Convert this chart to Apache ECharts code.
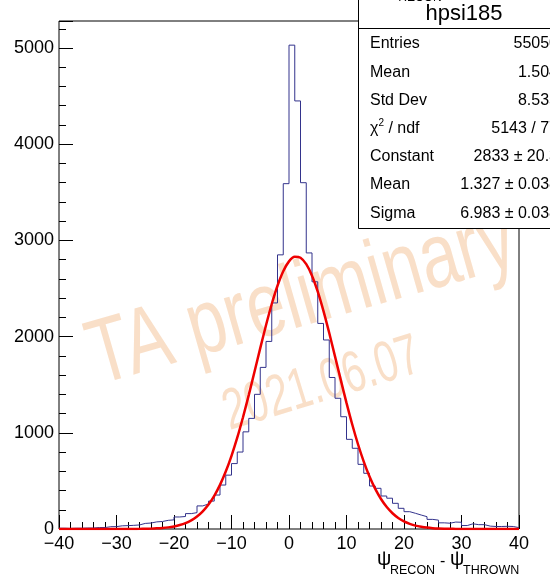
<!DOCTYPE html>
<html>
<head>
<meta charset="utf-8">
<script src="https://cdn.jsdelivr.net/npm/echarts@6/dist/echarts.min.js"></script>
<style>
html,body{margin:0;padding:0;background:#fff;}
#chart{width:550px;height:577px;}
</style>
</head>
<body>
<div id="chart"></div>
<script>
// ---- data ----
const binStart = -40;
const binWidth = 1;
const counts = [
  8, 6, 8, 8, 10, 10, 15, 15, 24, 25,          // -40 .. -31
  33, 35, 38, 42, 58, 62, 74, 78, 90, 95,      // -30 .. -21
  125, 130, 160, 170, 240, 260, 290, 353, 457, 560, // -20 .. -11
  680, 800, 1010, 1150, 1400, 1680, 1950, 2350, 2850, 3590, // -10 .. -1
  5030, 4450, 3600, 2870, 2570, 2137, 1965, 1575, 1359, 1167, // 0 .. 9
  932, 839, 672, 579, 447, 423, 343, 320, 267, 215, // 10 .. 19
  180, 163, 145, 128, 100, 92, 64, 60, 72, 70,  // 20 .. 29
  36, 54, 45, 45, 30, 26, 26, 28, 26, 14        // 30 .. 39
];
const fitX = [];
for (let v = -40; v <= 40; v++) fitX.push(v);
const fitY = [
  0, 0, 0, 0, 0, 0, 0, 0, 0, 0,                 // -40 .. -31
  0.1, 0.2, 0.4, 0.8, 1.3, 2.3, 3.9, 6.6, 10.7, 17, // -30 .. -21
  27, 41, 61, 90, 130, 184, 255, 345, 459, 597, // -20 .. -11
  761, 949, 1162, 1392, 1635, 1880, 2118, 2339, 2529, 2680, // -10 .. -1
  2782, 2830, 2820, 2753, 2633, 2467, 2265, 2037, 1795, 1550, // 0 .. 9
  1311, 1086, 881, 701, 546, 417, 312, 228, 164, 115, // 10 .. 19
  79, 54, 35, 23, 14.6, 9, 5.5, 3.3, 1.9, 1.1,  // 20 .. 29
  0.6, 0.3, 0.15, 0, 0, 0, 0, 0, 0, 0,          // 30 .. 39
  0                                             // 40
];
const xTicks = [-40, -30, -20, -10, 0, 10, 20, 30, 40];
const yTicks = [0, 1000, 2000, 3000, 4000, 5000];
const statsTitle = 'hpsi185';
const statsNames = ['Entries', 'Mean', 'Std Dev', '{b|χ}{sup|2}{b| / ndf}', 'Constant', 'Mean', 'Sigma'];
const statsValues = ['55050', '1.504', '8.535', '5143 / 77', '2833 ± 20.3', '1.327 ± 0.038', '6.983 ± 0.038'];

// ---- build ----
const histData = counts.map((c, i) => [binStart + i * binWidth, c]);
histData.push([binStart + counts.length * binWidth, counts[counts.length - 1]]);
const fitData = fitX.map((x, i) => [x, fitY[i]]);

const FONT = '"Liberation Sans", Arial, Helvetica, sans-serif';
const minus = s => String(s).replace('-', '\u2212');

const statsChildren = [
  {type: 'rect', shape: {x: 358.5, y: -5, width: 230, height: 233.5},
   style: {fill: '#fff', stroke: '#000', lineWidth: 1}},
  {type: 'line', shape: {x1: 358.5, y1: 28.5, x2: 600, y2: 28.5},
   style: {stroke: '#000', lineWidth: 1}},
  {type: 'text', x: 464, y: 14, style: {text: statsTitle, font: '22px ' + FONT,
   fill: '#000', align: 'center', verticalAlign: 'middle'}}
];
statsNames.forEach((n, i) => {
  const yy = 44 + i * 28.2;
  statsChildren.push({type: 'text', x: 370, y: yy, style: {
    text: n, fill: '#000', align: 'left', verticalAlign: 'middle',
    font: '16px ' + FONT,
    rich: {b: {fontSize: 16, fontFamily: FONT, lineHeight: 20, verticalAlign: 'middle'},
           sup: {fontSize: 10, fontFamily: FONT, lineHeight: 10, verticalAlign: 'top'}}
  }});
  statsChildren.push({type: 'text', x: 558, y: yy, style: {
    text: statsValues[i], fill: '#000', align: 'right', verticalAlign: 'middle',
    font: '16px ' + FONT
  }});
});

// x-axis title pieces
const titleParts = [
  {t: 'ψ', x: 377, y: 559, size: 20},
  {t: 'RECON', x: 390, y: 571, size: 12.5},
  {t: '-', x: 440, y: 562, size: 16},
  {t: 'ψ', x: 450, y: 559, size: 20},
  {t: 'THROWN', x: 463, y: 571, size: 12.5}
];
const titleEls = titleParts.map(p => ({type: 'text', z: 100, x: p.x, y: p.y,
  style: {text: p.t, font: p.size + 'px ' + FONT, fill: '#000', align: 'left', verticalAlign: 'middle'}}));

const chart = echarts.init(document.getElementById('chart'), null, {renderer: 'canvas'});
const option = {
  backgroundColor: '#fff',
  animation: false,
  grid: {left: 59, right: 31, top: 21, bottom: 48, show: true,
         borderColor: '#000', borderWidth: 1, backgroundColor: 'transparent'},
  xAxis: {
    type: 'value', min: -40, max: 40, interval: 10,
    axisLine: {show: false, onZero: false},
    splitLine: {show: false},
    axisTick: {show: true, inside: true, length: 14, lineStyle: {color: '#000', width: 1}},
    minorTick: {show: true, splitNumber: 5, length: 7, lineStyle: {color: '#000', width: 1}},
    axisLabel: {color: '#000', fontSize: 18, fontFamily: FONT, margin: 6,
      formatter: v => xTicks.indexOf(v) >= 0 ? minus(v) : ''}
  },
  yAxis: [{
    type: 'value', min: 0, max: 5281, interval: 1000,
    axisLine: {show: false, onZero: false},
    splitLine: {show: false},
    axisTick: {show: true, inside: true, length: 14, lineStyle: {color: '#000', width: 1}},
    axisLabel: {color: '#000', fontSize: 18, fontFamily: FONT, margin: 5,
      formatter: v => yTicks.indexOf(v) >= 0 ? String(v) : ''}
  }, {
    type: 'value', min: 0, max: 5281, interval: 200, position: 'left', offset: 0,
    axisLine: {show: false, onZero: false},
    splitLine: {show: false},
    axisTick: {show: true, inside: true, length: 7, lineStyle: {color: '#000', width: 1}},
    axisLabel: {show: false}
  }],
  graphic: [
    {type: 'text', z: -10, x: 302, y: 300, rotation: 16 * Math.PI / 180, scaleX: 0.75,
     style: {text: 'TA preliminary', font: '92px ' + FONT, fill: 'rgba(238,170,110,0.38)',
       align: 'center', verticalAlign: 'middle', shadowBlur: 6, shadowColor: 'rgba(238,170,110,0.5)'}},
    {type: 'text', z: -10, x: 322, y: 385, rotation: 17 * Math.PI / 180, scaleX: 0.7,
     style: {text: '2021.06.07', font: '58px ' + FONT, fill: 'rgba(238,170,110,0.38)',
       align: 'center', verticalAlign: 'middle', shadowBlur: 6, shadowColor: 'rgba(238,170,110,0.5)'}},
    {type: 'group', z: 100, children: statsChildren},
    {type: 'text', z: 101, x: 420, y: -2, style: {text: 'RECON', font: '12px ' + FONT,
      fill: '#000', align: 'center', verticalAlign: 'middle'}}
  ].concat(titleEls),
  series: [{
    type: 'line', name: 'hist', data: histData, step: 'end', showSymbol: false, symbol: 'none',
    lineStyle: {color: '#33338c', width: 1}, z: 3, silent: true
  }, {
    type: 'line', name: 'fit', data: fitData, smooth: 0.3, showSymbol: false, symbol: 'none',
    lineStyle: {color: '#ee0000', width: 2.5}, z: 4, silent: true
  }]
};
chart.setOption(option);
</script>
</body>
</html>
